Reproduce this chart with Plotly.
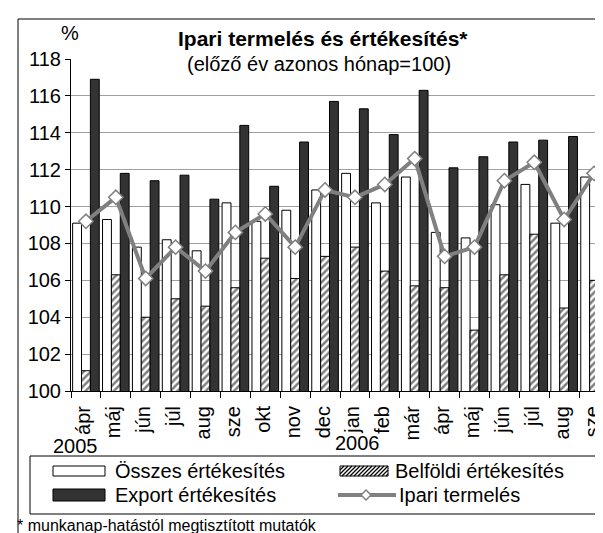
import plotly.graph_objects as go

# ---- data ----
months = ["ápr", "máj", "jún", "júl", "aug", "sze", "okt", "nov", "dec",
          "jan", "feb", "már", "ápr", "máj", "jún", "júl", "aug", "sze"]
years = ["2005", "2006"]
osszes = [109.1, 109.3, 107.8, 108.2, 107.6, 110.2, 109.2, 109.8, 110.9,
          111.8, 110.2, 111.6, 108.6, 108.3, 110.1, 111.2, 109.1, 111.6]
belfoldi = [101.1, 106.3, 104.0, 105.0, 104.6, 105.6, 107.2, 106.1, 107.3,
            107.8, 106.5, 105.7, 105.6, 103.3, 106.3, 108.5, 104.5, 106.0]
export = [116.9, 111.8, 111.4, 111.7, 110.4, 114.4, 111.1, 113.5, 115.7,
          115.3, 113.9, 116.3, 112.1, 112.7, 113.5, 113.6, 113.8, 116.8]
ipari = [109.2, 110.5, 106.1, 107.8, 106.5, 108.6, 109.6, 107.8, 110.9,
         110.5, 111.2, 112.6, 107.3, 107.8, 111.4, 112.4, 109.3, 111.8]
series_names = ["Összes értékesítés", "Belföldi értékesítés",
                "Export értékesítés", "Ipari termelés"]
y_ticks = [100, 102, 104, 106, 108, 110, 112, 114, 116, 118]

# ---- geometry helpers (pixels -> paper) ----
W, H = 603, 533
L, R, T, B = 63, 2, 51, 150
PW, PH = W - L - R, H - T - B


def px(x):
    return (x - L) / PW


def py(y):
    return (H - B - y) / PH


FONT = "Liberation Sans, Arial, sans-serif"
GRAY = "#808080"
DARK = "#333333"

x = list(range(len(months)))

fig = go.Figure()
fig.add_trace(go.Bar(x=x, y=osszes, name=series_names[0],
                     marker=dict(color="white", line=dict(color="black", width=1))))
fig.add_trace(go.Bar(x=x, y=belfoldi, name=series_names[1],
                     marker=dict(color="white", line=dict(color="black", width=1),
                                 pattern=dict(shape="/", fgcolor="black", bgcolor="white",
                                              size=5, solidity=0.5))))
fig.add_trace(go.Bar(x=x, y=export, name=series_names[2],
                     marker=dict(color=DARK, line=dict(color="black", width=1))))
fig.add_trace(go.Scatter(x=x, y=ipari, name=series_names[3], mode="lines+markers",
                         line=dict(color=GRAY, width=4),
                         marker=dict(symbol="diamond", size=11, color="white",
                                     line=dict(color=GRAY, width=1.5))))

shapes = []
annotations = []

# outer frame
shapes.append(dict(type="rect", xref="paper", yref="paper",
                   x0=px(10), x1=px(620), y0=py(11), y1=py(560),
                   line=dict(color="black", width=1), fillcolor="rgba(0,0,0,0)",
                   layer="above"))
# white box behind subtitle (hides part of 118 gridline)
shapes.append(dict(type="rect", xref="paper", yref="paper",
                   x0=px(143), x1=px(480), y0=py(43), y1=py(64),
                   line=dict(width=0), fillcolor="white", layer="above"))

# titles
annotations.append(dict(text="<b>Ipari termelés és értékesítés*</b>", x=px(315), y=py(30),
                        xref="paper", yref="paper", showarrow=False, xanchor="center",
                        yanchor="middle", font=dict(family=FONT, size=21, color="black")))
annotations.append(dict(text="(előző év azonos hónap=100)", x=px(311), y=py(56),
                        xref="paper", yref="paper", showarrow=False, xanchor="center",
                        yanchor="middle", font=dict(family=FONT, size=20, color="black")))
annotations.append(dict(text="%", x=px(62), y=py(25), xref="paper", yref="paper",
                        showarrow=False, xanchor="center", yanchor="middle",
                        font=dict(family=FONT, size=20, color="black")))
# years
annotations.append(dict(text=years[0], x=px(67), y=py(438), xref="paper", yref="paper",
                        showarrow=False, xanchor="center", yanchor="middle",
                        font=dict(family=FONT, size=20, color="black")))
annotations.append(dict(text=years[1], x=px(349), y=py(435), xref="paper", yref="paper",
                        showarrow=False, xanchor="center", yanchor="middle",
                        font=dict(family=FONT, size=20, color="black")))
# footnote
annotations.append(dict(text="* munkanap-hatástól megtisztított mutatók", x=px(7), y=py(517),
                        xref="paper", yref="paper", showarrow=False, xanchor="left",
                        yanchor="middle", font=dict(family=FONT, size=16, color="black")))

# ---- manual legend ----
shapes.append(dict(type="rect", xref="paper", yref="paper",
                   x0=px(22), x1=px(588), y0=py(448), y1=py(506),
                   line=dict(color="black", width=1), fillcolor="white", layer="above"))
row1, row2 = 463, 487
# Összes symbol
shapes.append(dict(type="rect", xref="paper", yref="paper",
                   x0=px(45), x1=px(97), y0=py(row1 - 5), y1=py(row1 + 5),
                   line=dict(color="black", width=1), fillcolor="white", layer="above"))
# Export symbol
shapes.append(dict(type="rect", xref="paper", yref="paper",
                   x0=px(45), x1=px(97), y0=py(row2 - 6), y1=py(row2 + 6),
                   line=dict(color="black", width=1), fillcolor=DARK, layer="above"))
# Belföldi hatched symbol
hx0, hx1, hy0, hy1 = 332, 380, row1 - 5, row1 + 5
hh = hy1 - hy0
segs = []
for s in range(hx0 - hh, hx1 + 1, 4):
    ax_, ay_ = s, hy1
    bx_, by_ = s + hh, hy0
    if ax_ < hx0:
        ay_ = hy1 - (hx0 - ax_)
        ax_ = hx0
    if bx_ > hx1:
        by_ = hy1 - (hx1 - s)
        bx_ = hx1
    if bx_ <= ax_:
        continue
    segs.append(f"M{px(ax_)},{py(ay_)} L{px(bx_)},{py(by_)}")
shapes.append(dict(type="rect", xref="paper", yref="paper",
                   x0=px(hx0), x1=px(hx1), y0=py(hy0), y1=py(hy1),
                   line=dict(color="black", width=1), fillcolor="white", layer="above"))
shapes.append(dict(type="path", xref="paper", yref="paper", path=" ".join(segs),
                   line=dict(color="black", width=1.3), layer="above"))
# Ipari line symbol
shapes.append(dict(type="line", xref="paper", yref="paper",
                   x0=px(330), x1=px(388), y0=py(row2), y1=py(row2),
                   line=dict(color=GRAY, width=4), layer="above"))
dx = 5
dpath = (f"M{px(358)},{py(row2 - dx)} L{px(358 + dx)},{py(row2)} "
         f"L{px(358)},{py(row2 + dx)} L{px(358 - dx)},{py(row2)} Z")
shapes.append(dict(type="path", xref="paper", yref="paper", path=dpath,
                   line=dict(color=GRAY, width=1.5), fillcolor="white", layer="above"))

for txt, xx, yy in [(series_names[0], 105, row1), (series_names[1], 385, row1),
                    (series_names[2], 105, row2), (series_names[3], 389, row2)]:
    annotations.append(dict(text=txt, x=px(xx), y=py(yy), xref="paper", yref="paper",
                            showarrow=False, xanchor="left", yanchor="middle",
                            font=dict(family=FONT, size=20, color="black")))

fig.update_layout(
    width=W, height=H,
    margin=dict(l=L, r=R, t=T, b=B, pad=0),
    paper_bgcolor="white", plot_bgcolor="white",
    barmode="group", bargap=0.11, bargroupgap=0,
    showlegend=False,
    font=dict(family=FONT, size=20, color="black"),
    shapes=shapes, annotations=annotations,
    xaxis=dict(range=[-0.5, len(months) - 0.5], tickmode="array", tickvals=x,
               ticktext=months, tickangle=-90, ticks="outside", ticklen=6,
               tickcolor="rgba(0,0,0,0)", showline=True, linecolor="black",
               linewidth=1, showgrid=False, zeroline=False, automargin=False,
               ticklabelshift=-2,
               tickfont=dict(family=FONT, size=20, color="black"),
               minor=dict(tickmode="array",
                          tickvals=[i - 0.5 for i in range(len(months) + 1)],
                          ticks="outside", ticklen=6, tickcolor="black",
                          showgrid=False)),
    yaxis=dict(range=[100, 118], tickmode="array", tickvals=y_ticks,
               ticks="outside", ticklen=5, tickcolor="black", showline=True,
               linecolor="black", linewidth=1, showgrid=True, gridcolor="#a0a0a0",
               gridwidth=1, zeroline=False, automargin=False,
               tickfont=dict(family=FONT, size=20, color="black")),
)

fig.write_html("out.html")
